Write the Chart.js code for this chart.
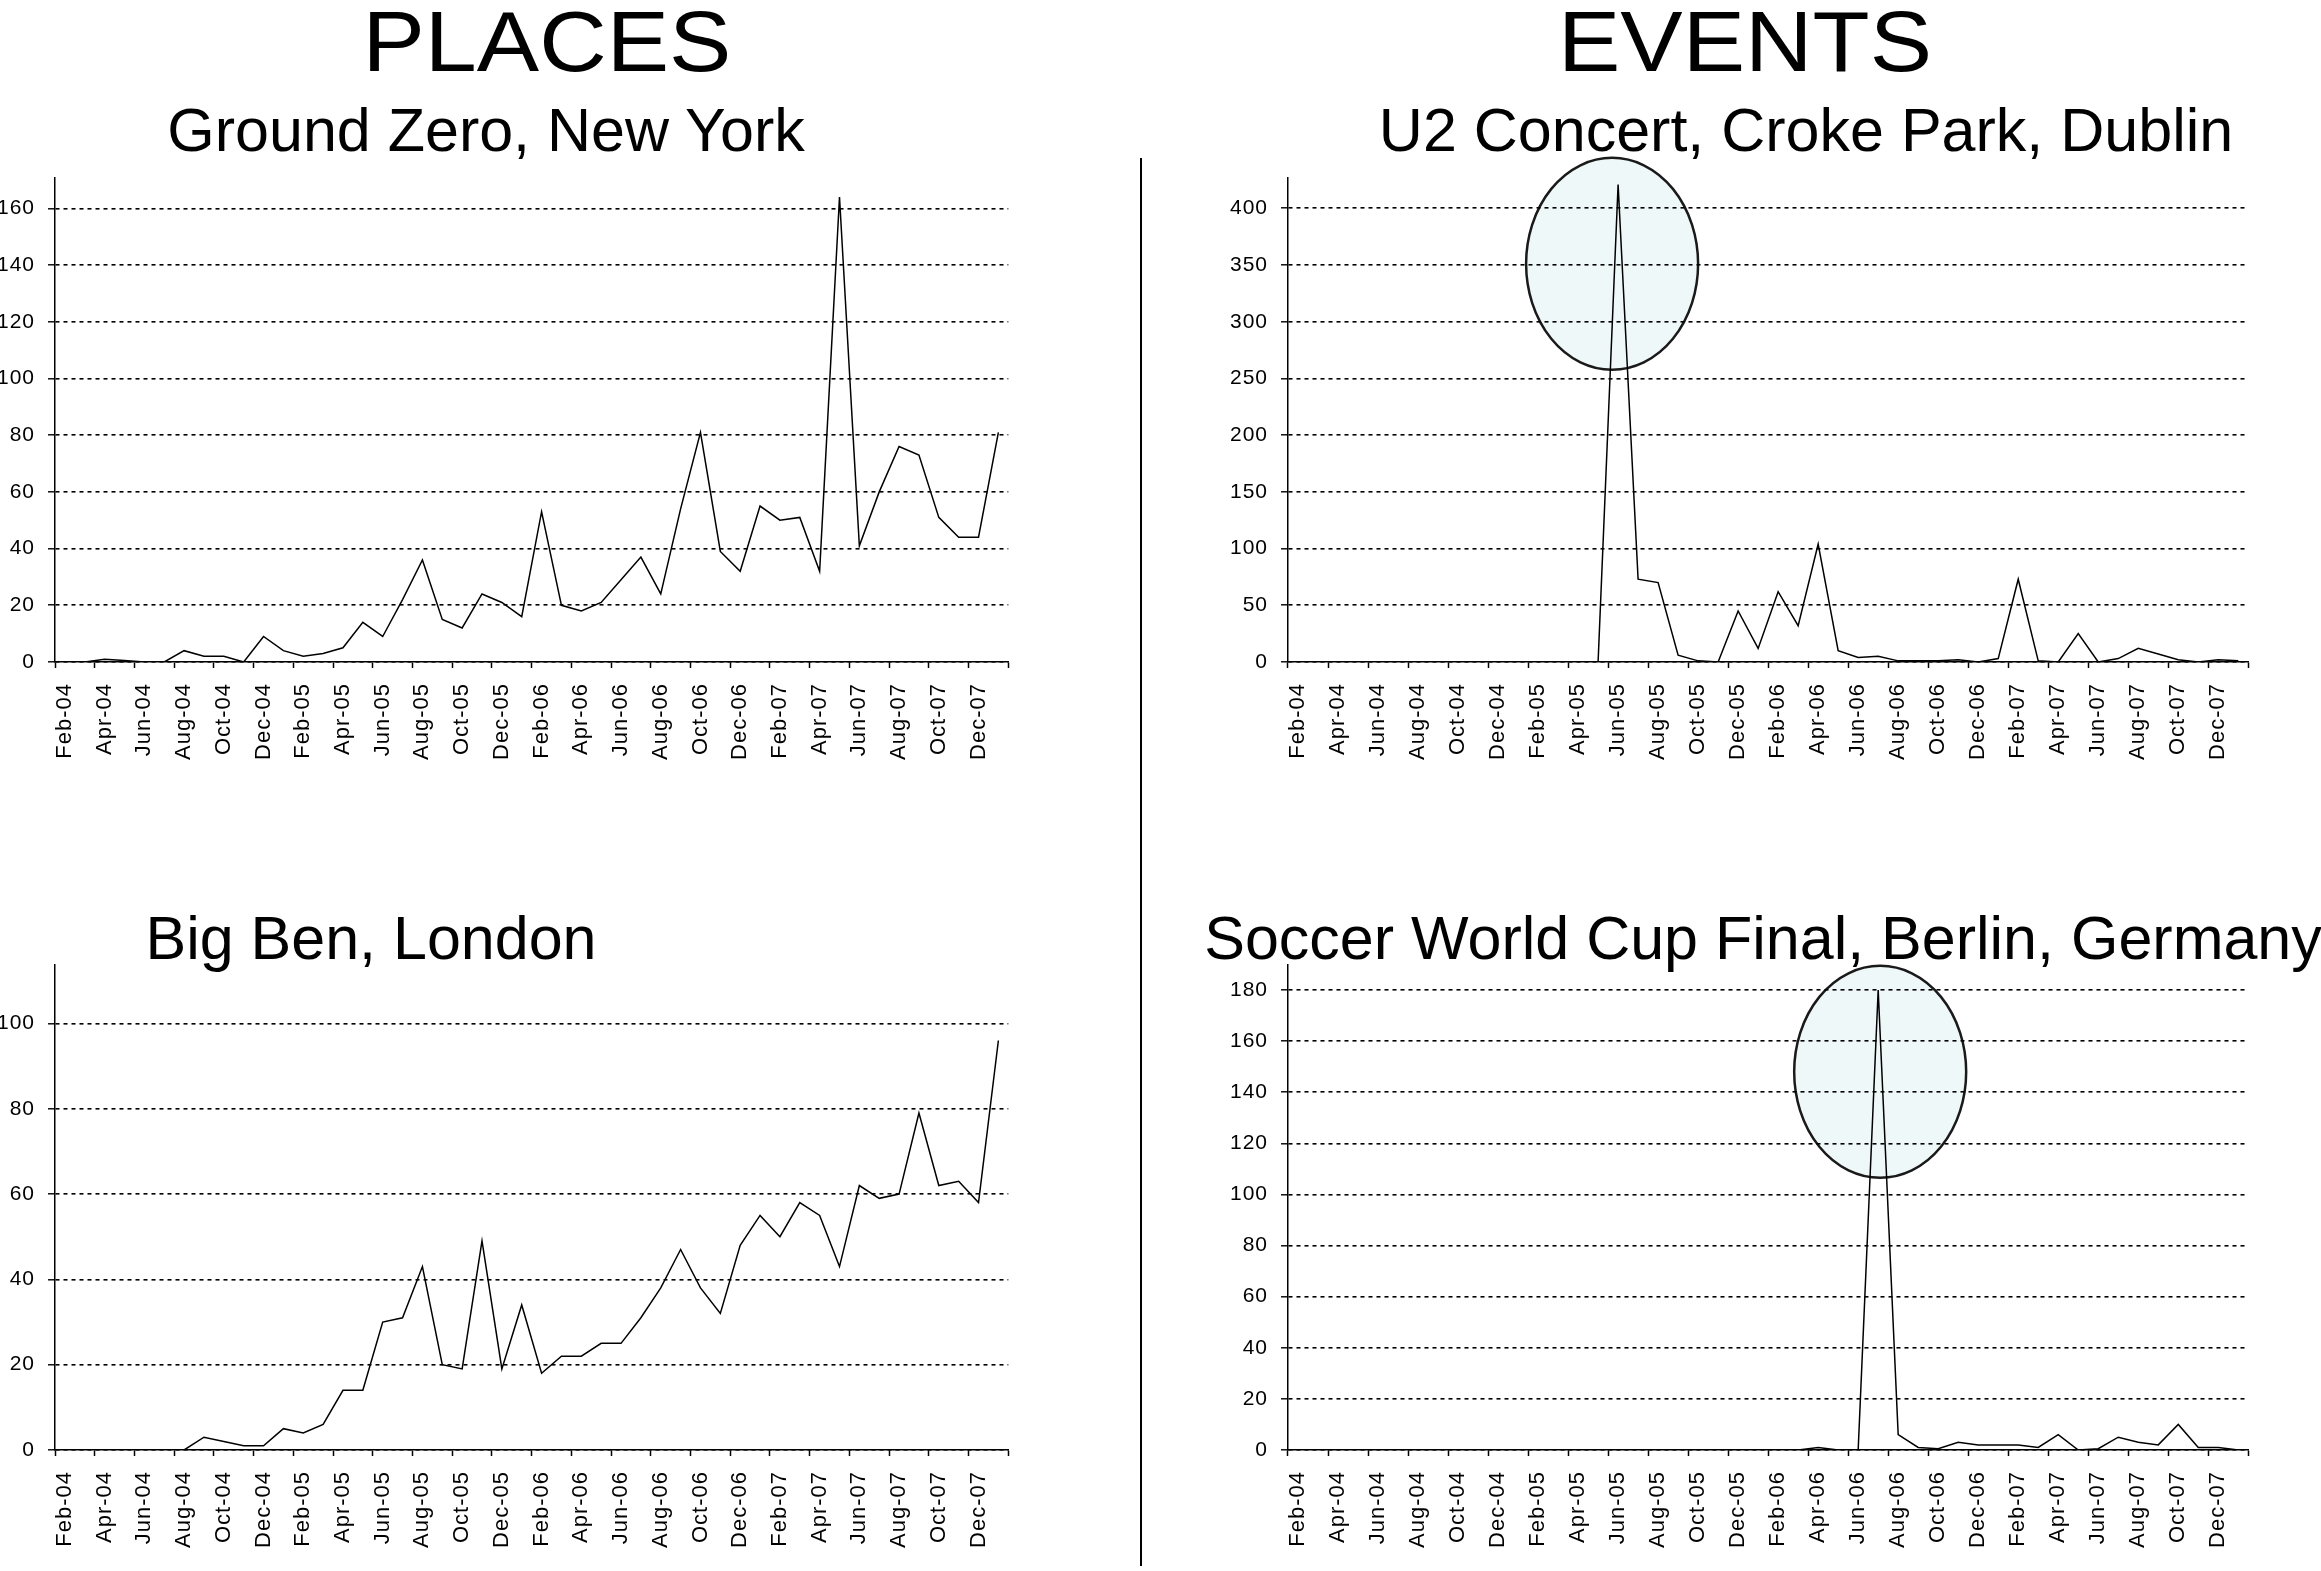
<!DOCTYPE html>
<html>
<head>
<meta charset="utf-8">
<title>Places and Events</title>
<script src="https://cdn.jsdelivr.net/npm/chart.js@4.4.0/dist/chart.umd.min.js"></script>
<style>
  body { margin: 0; background: #fff; }
  #page { position: relative; width: 2321px; height: 1571px; overflow: hidden;
          font-family: "Liberation Sans", Arial, sans-serif; color: #000; }
  .head { position: absolute; font-size: 85px; line-height: 1; white-space: nowrap;
          transform: translateX(-50%) scaleX(1.1); }
  .sub { position: absolute; font-size: 61px; line-height: 1; white-space: nowrap;
         transform: translateX(-50%); }
  canvas { position: absolute; }
  #divider { position: absolute; left: 1140px; top: 158px; width: 2px; height: 1408px; background: #000; }
</style>
</head>
<body>
<div id="page">
  <div class="head" style="left:547px; top:-1px;">PLACES</div>
  <div class="head" style="left:1745px; top:-1px;">EVENTS</div>
  <div class="sub" style="left:486px; top:100px;">Ground Zero, New York</div>
  <div class="sub" style="left:1806px; top:100px;">U2 Concert, Croke Park, Dublin</div>
  <div class="sub" style="left:371px; top:908px;">Big Ben, London</div>
  <div class="sub" style="left:1763px; top:908px;">Soccer World Cup Final, Berlin, Germany</div>
  <div id="divider"></div>
  <canvas id="groundZero" width="1040" height="660" style="left:0; top:140px;"></canvas>
  <canvas id="u2Concert" width="1100" height="660" style="left:1180px; top:140px;"></canvas>
  <canvas id="bigBen" width="1040" height="641" style="left:0; top:930px;"></canvas>
  <canvas id="worldCup" width="1100" height="641" style="left:1180px; top:930px;"></canvas>
</div>

<script>
// mesi, da Feb-04 a Jan-08
const months = [
    "Feb-04", "Mar-04", "Apr-04", "May-04", "Jun-04", "Jul-04", "Aug-04", "Sep-04", "Oct-04", "Nov-04", "Dec-04",
    "Jan-05", "Feb-05", "Mar-05", "Apr-05", "May-05", "Jun-05", "Jul-05", "Aug-05", "Sep-05", "Oct-05", "Nov-05", "Dec-05",
    "Jan-06", "Feb-06", "Mar-06", "Apr-06", "May-06", "Jun-06", "Jul-06", "Aug-06", "Sep-06", "Oct-06", "Nov-06", "Dec-06",
    "Jan-07", "Feb-07", "Mar-07", "Apr-07", "May-07", "Jun-07", "Jul-07", "Aug-07", "Sep-07", "Oct-07", "Nov-07", "Dec-07",
    "Jan-08"
];

const groundZero = [
    null, 0, 1, 0.5, 0, 0, 4, 2, 2, 0, 9,
    4, 2, 3, 5, 14, 9, 22, 36, 15, 12, 24, 21,
    16, 53, 20, 18, 21, 29, 37, 24, 54, 81, 39, 32,
    55, 50, 51, 32, 164, 41, 60, 76, 73, 51, 44, 44,
    81
];

const u2Concert = [
    null, null, null, null, null, null, null, null, null, null, null,
    null, null, null, null, 0, 421, 73, 70, 6, 1, 0, 45,
    12, 62, 32, 104, 10, 4, 5, 1, 1, 1, 2, 0,
    3, 73, 1, 0, 25, 0, 3, 12, 7, 2, 0, 2,
    1
];

const bigBen = [
    null, null, null, null, null, null, 0, 3, 2, 1, 1,
    5, 4, 6, 14, 14, 30, 31, 43, 20, 19, 49, 19,
    34, 18, 22, 22, 25, 25, 31, 38, 47, 38, 32, 48,
    55, 50, 58, 55, 43, 62, 59, 60, 79, 62, 63, 58,
    96
];

const worldCup = [
    null, null, null, null, null, null, null, null, null, null, null,
    null, null, null, null, null, null, null, null, null, null, null, null,
    null, null, 0, 1, 0, 0, 180, 6, 1, 0.5, 3, 2,
    2, 2, 1, 6, 0, 0.5, 5, 3, 2, 10, 1, 1,
    0
];

// tacche dell'asse y
const ticksGroundZero = [0, 20, 40, 60, 80, 100, 120, 140, 160];
const ticksU2 = [0, 50, 100, 150, 200, 250, 300, 350, 400];
const ticksBigBen = [0, 20, 40, 60, 80, 100];
const ticksWorldCup = [0, 20, 40, 60, 80, 100, 120, 140, 160, 180];

// cerchio attorno al picco: [indice mese, valore]
const peakU2 = [15.7, 351];
const peakWorldCup = [29.1, 148];

const fontFamily = "'Liberation Sans', Arial, sans-serif";

const ellipsePlugin = {
    id: "peakEllipse",
    beforeDraw(chart) {
        const ctx = chart.ctx;
        ctx.letterSpacing = "1px";
        const at = chart.config.options.peakAt;
        if (!at) return;
        const cx = chart.scales.x.getPixelForValue(at[0]);
        const cy = chart.scales.y.getPixelForValue(at[1]);
        ctx.save();
        ctx.beginPath();
        ctx.ellipse(cx, cy, 86, 106, 0, 0, Math.PI * 2);
        ctx.fillStyle = "#eff8f8";
        ctx.fill();
        ctx.lineWidth = 2.5;
        ctx.strokeStyle = "#1a1a1a";
        ctx.stroke();
        ctx.restore();
    },
    afterDraw(chart) {
        chart.ctx.letterSpacing = "0px";
    }
};

function makeChart(id, values, yTicks, yMax, box, peakAt) {
    const ctx = document.getElementById(id).getContext("2d");
    return new Chart(ctx, {
        type: "line",
        data: {
            labels: months,
            datasets: [{
                data: values,
                borderColor: "#000",
                borderWidth: 1.5,
                pointRadius: 0,
                tension: 0,
                fill: false,
                spanGaps: false
            }]
        },
        options: {
            responsive: false,
            animation: false,
            peakAt: peakAt,
            layout: { padding: { top: box.top, right: box.right, left: 0, bottom: 0 } },
            plugins: { legend: { display: false }, tooltip: { enabled: false } },
            scales: {
                x: {
                    offset: true,
                    afterFit: s => { s.height = box.xHeight; },
                    grid: {
                        display: true,
                        offset: true,
                        drawOnChartArea: false,
                        drawTicks: true,
                        tickLength: 6,
                        tickWidth: 1.5,
                        color: c => (c.index === undefined || c.index % 2 === 0) ? "#000" : "rgba(0,0,0,0)",
                        tickColor: c => (c.index === undefined || c.index % 2 === 0) ? "#000" : "rgba(0,0,0,0)"
                    },
                    border: { display: true, color: "#000", width: 1.5 },
                    ticks: {
                        autoSkip: false,
                        minRotation: 90,
                        maxRotation: 90,
                        padding: 15,
                        color: "#000",
                        font: { family: fontFamily, size: 22 },
                        callback: (val, idx) => idx % 2 === 0 ? months[idx] : ""
                    }
                },
                y: {
                    min: 0,
                    max: yMax,
                    afterFit: s => { s.width = box.yWidth; },
                    afterBuildTicks: s => { s.ticks = yTicks.map(v => ({ value: v })); },
                    grid: {
                        color: "#000",
                        lineWidth: 1.6,
                        tickBorderDash: [],
                        tickLength: 7,
                        tickWidth: 1.4,
                        tickColor: "#000"
                    },
                    border: { display: true, color: "#000", width: 1.5, dash: [4, 4] },
                    ticks: {
                        padding: 13,
                        color: "#000",
                        font: { family: fontFamily, size: 21 }
                    }
                }
            }
        },
        plugins: [ellipsePlugin]
    });
}

document.addEventListener("DOMContentLoaded", function () {
    makeChart("groundZero", groundZero, ticksGroundZero, 170.7,
        { top: 38, right: 21, yWidth: 55, xHeight: 138 }, null);
    makeChart("u2Concert", u2Concert, ticksU2, 426.7,
        { top: 38, right: 30, yWidth: 108, xHeight: 138 }, peakU2);
    makeChart("bigBen", bigBen, ticksBigBen, 113.7,
        { top: 35, right: 21, yWidth: 55, xHeight: 121 }, null);
    makeChart("worldCup", worldCup, ticksWorldCup, 189.8,
        { top: 35, right: 30, yWidth: 108, xHeight: 121 }, peakWorldCup);
});
</script>
</body>
</html>
